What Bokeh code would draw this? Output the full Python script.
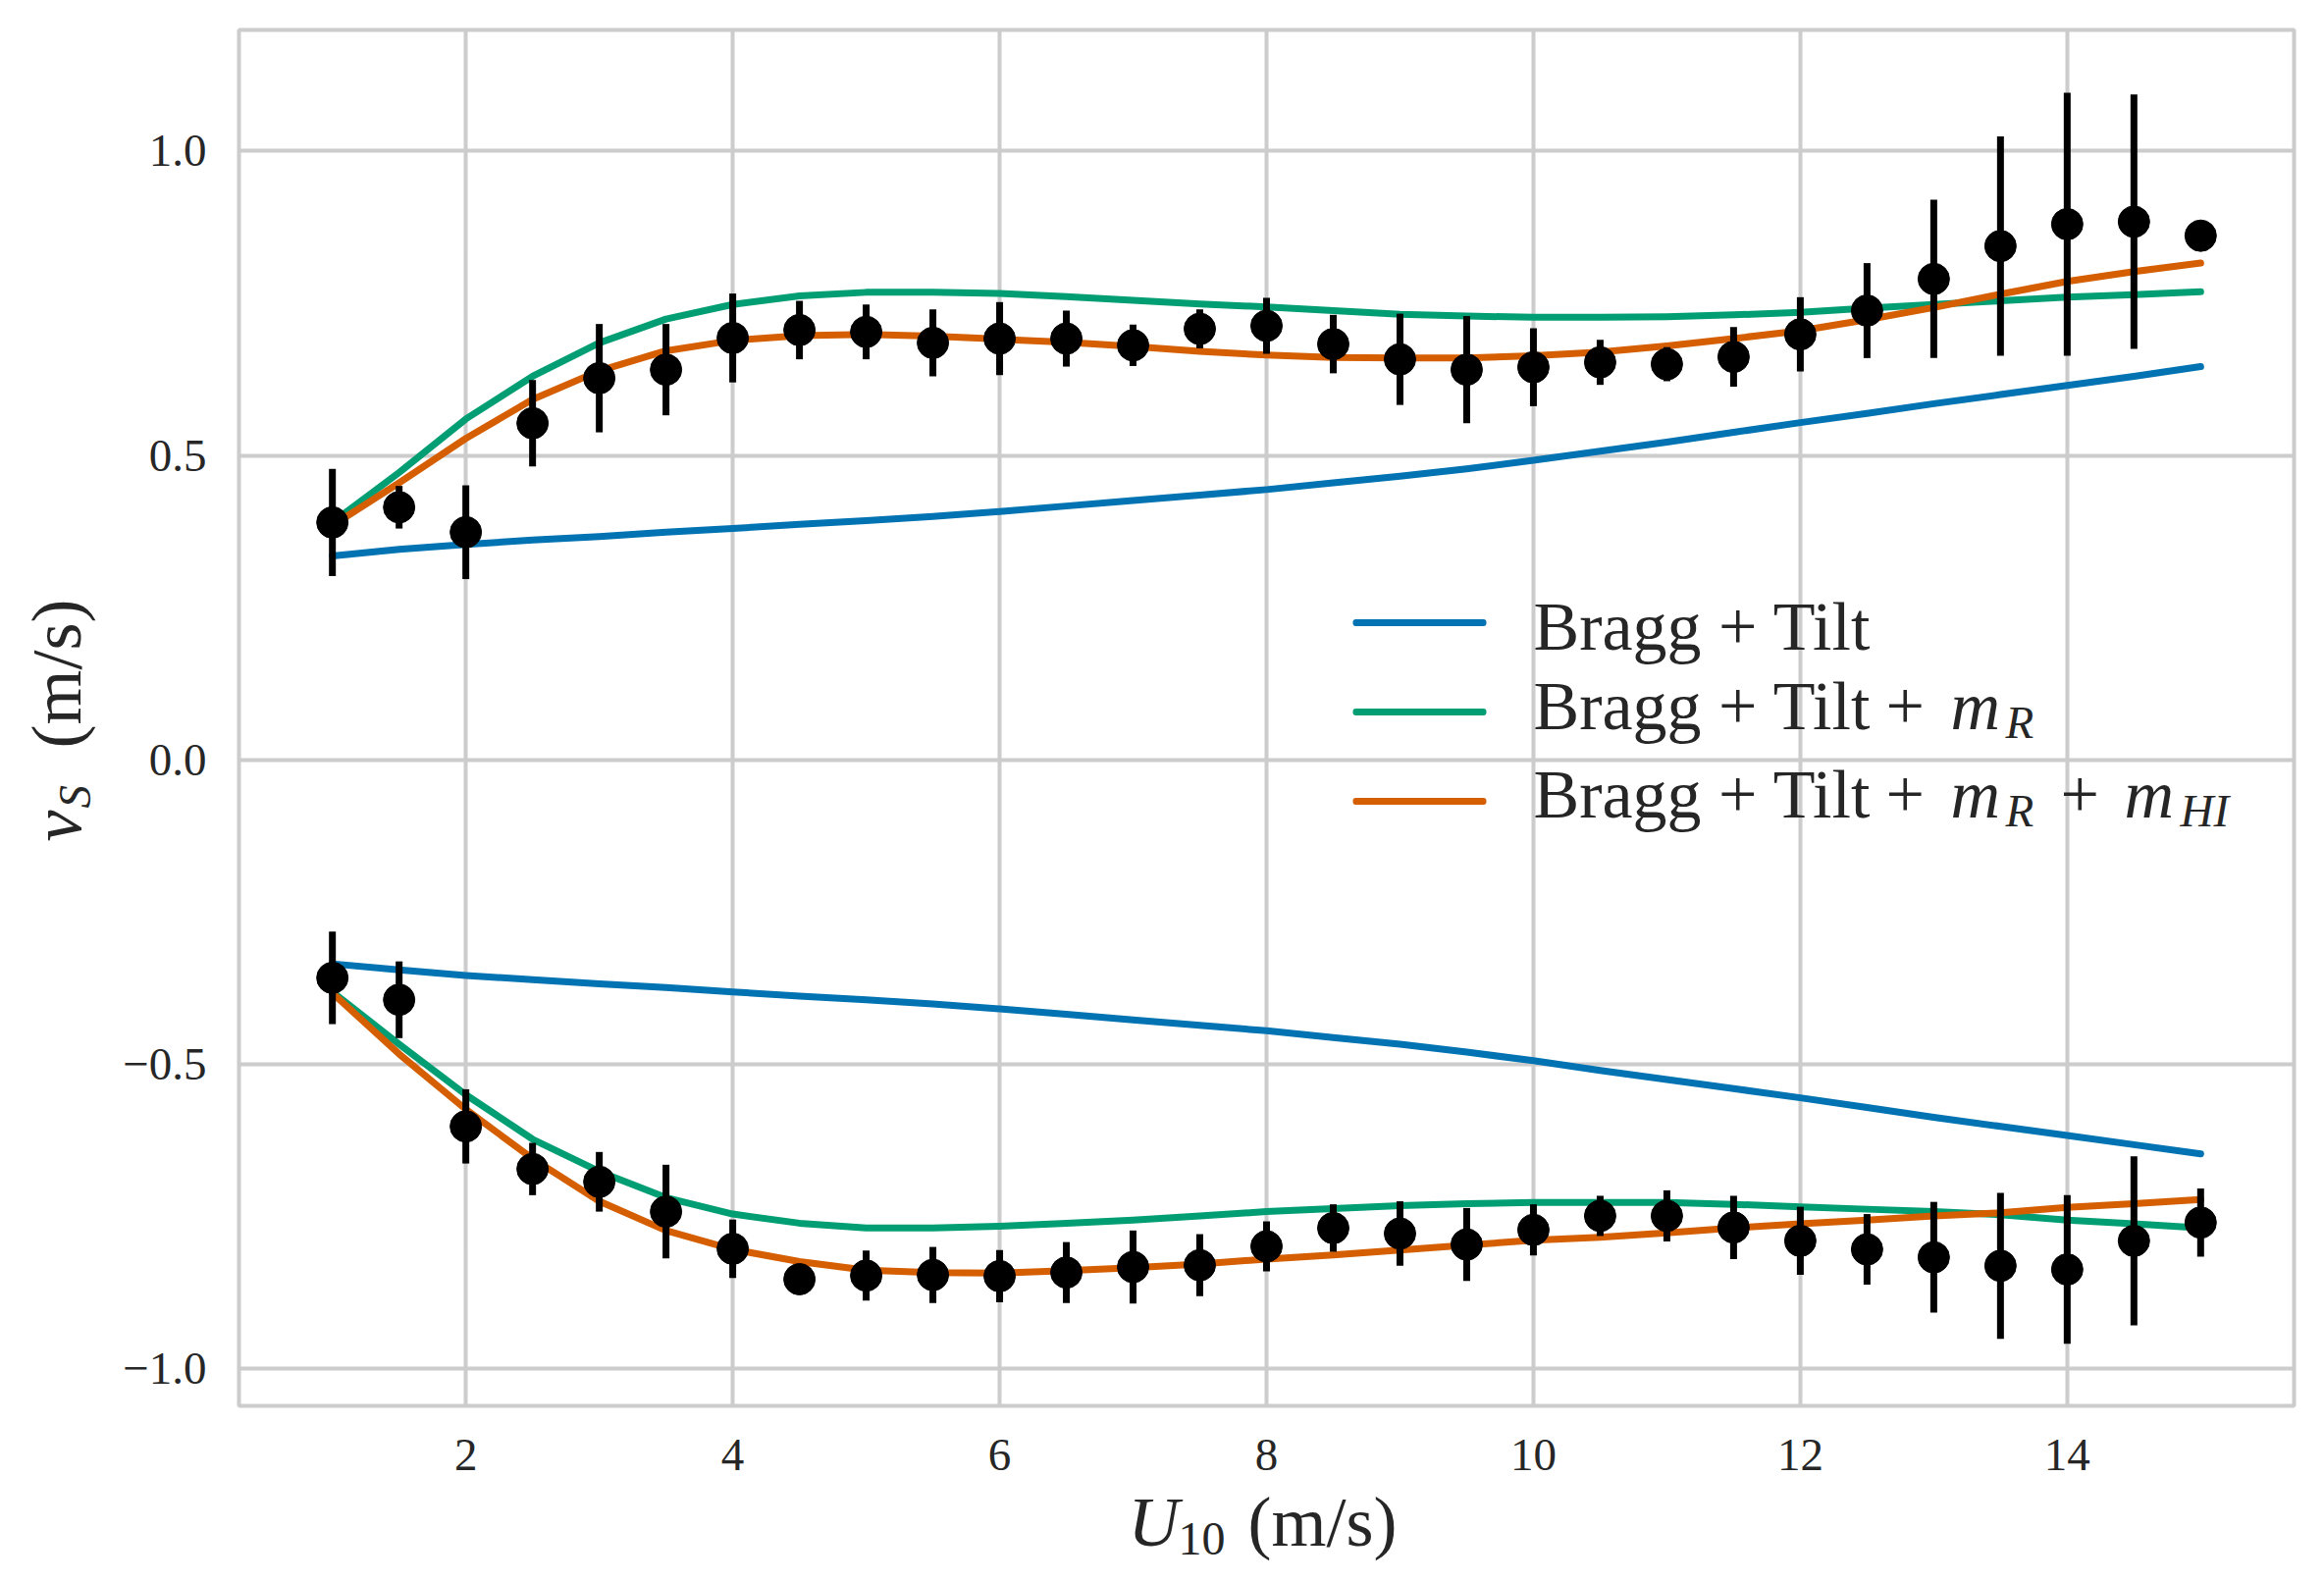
import math
from bokeh.plotting import figure
from bokeh.layouts import row, column
from bokeh.models import ColumnDataSource, Range1d, FixedTicker, Label, BoxAnnotation
from bokeh.embed import file_html
from bokeh.resources import INLINE

# ---------------- data ----------------
u10 = [1.0, 1.5, 2.0, 2.5, 3.0, 3.5, 4.0, 4.5, 5.0, 5.5, 6.0, 6.5, 7.0, 7.5,
       8.0, 8.5, 9.0, 9.5, 10.0, 10.5, 11.0, 11.5, 12.0, 12.5, 13.0, 13.5,
       14.0, 14.5, 15.0]

# model curves, upper branch
bragg_tilt_up = [0.335, 0.346, 0.354, 0.361, 0.367, 0.374, 0.380, 0.387, 0.393,
                 0.400, 0.408, 0.417, 0.426, 0.435, 0.444, 0.455, 0.466, 0.478,
                 0.492, 0.507, 0.522, 0.538, 0.554, 0.569, 0.585, 0.600, 0.615,
                 0.630, 0.646]
bragg_tilt_mr_up = [0.390, 0.472, 0.560, 0.630, 0.685, 0.724, 0.748, 0.762, 0.768,
                    0.768, 0.766, 0.761, 0.755, 0.749, 0.744, 0.738, 0.732, 0.729,
                    0.727, 0.727, 0.728, 0.731, 0.735, 0.742, 0.748, 0.754, 0.760,
                    0.764, 0.769]
bragg_tilt_mr_mhi_up = [0.385, 0.455, 0.528, 0.592, 0.639, 0.672, 0.689, 0.697, 0.699,
                        0.696, 0.691, 0.686, 0.679, 0.671, 0.665, 0.661, 0.660, 0.660,
                        0.664, 0.670, 0.680, 0.692, 0.705, 0.723, 0.743, 0.765, 0.786,
                        0.802, 0.816]

# model curves, lower branch
bragg_tilt_lo = [-0.335, -0.345, -0.354, -0.361, -0.368, -0.374, -0.381, -0.388, -0.394,
                 -0.401, -0.409, -0.418, -0.427, -0.436, -0.445, -0.456, -0.467, -0.480,
                 -0.494, -0.510, -0.525, -0.540, -0.555, -0.571, -0.587, -0.602, -0.617,
                 -0.632, -0.647]
bragg_tilt_mr_lo = [-0.381, -0.467, -0.550, -0.623, -0.676, -0.719, -0.746, -0.761, -0.769,
                    -0.769, -0.766, -0.761, -0.756, -0.749, -0.742, -0.737, -0.732, -0.729,
                    -0.727, -0.727, -0.727, -0.730, -0.734, -0.738, -0.742, -0.747, -0.756,
                    -0.762, -0.769]
bragg_tilt_mr_mhi_lo = [-0.383, -0.483, -0.574, -0.655, -0.725, -0.773, -0.804, -0.824, -0.838,
                        -0.842, -0.843, -0.839, -0.834, -0.828, -0.820, -0.813, -0.805, -0.797,
                        -0.789, -0.784, -0.777, -0.769, -0.762, -0.756, -0.749, -0.744, -0.735,
                        -0.729, -0.722]

# observations (mean and spread)
obs_up = [0.390, 0.415, 0.374, 0.553, 0.627, 0.641, 0.693, 0.706, 0.703, 0.685, 0.692,
          0.692, 0.681, 0.708, 0.713, 0.683, 0.658, 0.641, 0.645, 0.653, 0.650, 0.662,
          0.699, 0.738, 0.790, 0.844, 0.880, 0.884, 0.861]
err_up = [0.088, 0.035, 0.077, 0.071, 0.089, 0.075, 0.073, 0.048, 0.045, 0.055, 0.060,
          0.046, 0.034, 0.032, 0.046, 0.048, 0.075, 0.088, 0.064, 0.037, 0.028, 0.049,
          0.061, 0.078, 0.130, 0.180, 0.216, 0.209, 0.0]
obs_lo = [-0.358, -0.394, -0.602, -0.672, -0.693, -0.742, -0.803, -0.853, -0.847, -0.846,
          -0.848, -0.842, -0.833, -0.830, -0.799, -0.769, -0.778, -0.796, -0.772, -0.749,
          -0.749, -0.768, -0.790, -0.804, -0.817, -0.831, -0.837, -0.790, -0.760]
err_lo = [0.076, 0.063, 0.061, 0.043, 0.049, 0.077, 0.048, 0.020, 0.041, 0.046, 0.043,
          0.050, 0.060, 0.051, 0.041, 0.039, 0.053, 0.060, 0.042, 0.033, 0.042, 0.052,
          0.056, 0.058, 0.091, 0.120, 0.122, 0.139, 0.056]

x_ticks = [2, 4, 6, 8, 10, 12, 14]
y_ticks = [-1.0, -0.5, 0.0, 0.5, 1.0]
y_tick_labels = ["\u22121.0", "\u22120.5", "0.0", "0.5", "1.0"]

# ---------------- styling ----------------
BLUE = "#0173b2"
GREEN = "#029e73"
ORANGE = "#d55e00"
TXT = "#262626"
GRID = "#cccccc"
FONT = "Liberation Serif"

YLAB_W = 110
MAIN_W = 2242
MAIN_H = 1512
XLAB_H = 84

p = figure(width=MAIN_W, height=MAIN_H, output_backend="svg", toolbar_location=None,
           x_range=Range1d(0.3, 15.7), y_range=Range1d(-1.061, 1.199),
           min_border_left=133, min_border_right=15, min_border_top=30,
           min_border_bottom=80, background_fill_color="white",
           border_fill_color="white")

p.xaxis.ticker = FixedTicker(ticks=x_ticks)
p.yaxis.ticker = FixedTicker(ticks=y_ticks)
p.yaxis.major_label_overrides = {t: s for t, s in zip(y_ticks, y_tick_labels)}
for ax in (p.xaxis[0], p.yaxis[0]):
    ax.axis_line_color = None
    ax.major_tick_line_color = None
    ax.minor_tick_line_color = None
    ax.major_tick_out = 0
    ax.major_tick_in = 0
    ax.major_label_text_font = FONT
    ax.major_label_text_font_size = "47px"
    ax.major_label_text_color = TXT
p.yaxis.major_label_standoff = 33
p.xaxis.major_label_standoff = 34

p.grid.grid_line_color = GRID
p.grid.grid_line_width = 4
p.outline_line_color = GRID
p.outline_line_width = 4

# model lines
for ys, col in ((bragg_tilt_up, BLUE), (bragg_tilt_mr_up, GREEN), (bragg_tilt_mr_mhi_up, ORANGE),
                (bragg_tilt_lo, BLUE), (bragg_tilt_mr_lo, GREEN), (bragg_tilt_mr_mhi_lo, ORANGE)):
    p.line(u10, ys, line_color=col, line_width=7, line_cap="round", line_join="round")

# observations with error bars
for ys, es in ((obs_up, err_up), (obs_lo, err_lo)):
    src = ColumnDataSource(dict(x=u10, y=ys,
                                lo=[a - b for a, b in zip(ys, es)],
                                hi=[a + b for a, b in zip(ys, es)]))
    p.segment(x0="x", y0="lo", x1="x", y1="hi", source=src,
              line_color="black", line_width=7)
    p.scatter("x", "y", source=src, size=32, fill_color="black", line_color="black")


def lab(fig, text, x, y, size, italic=False, angle=0.0):
    fig.add_layout(Label(x=x, y=y, x_units="canvas", y_units="canvas", text=text,
                         text_font=FONT, text_font_size=f"{size}px",
                         text_font_style="italic" if italic else "normal",
                         text_color=TXT, text_align="left", text_baseline="alphabetic",
                         angle=angle))


def blank(w, h):
    f = figure(width=w, height=h, output_backend="svg", toolbar_location=None,
               x_range=Range1d(0, 1), y_range=Range1d(0, 1),
               x_axis_type=None, y_axis_type=None, min_border=0,
               outline_line_color=None, background_fill_color="white",
               border_fill_color="white")
    return f


# baseline correction observed for Bokeh text (fraction of font size)
D = 0.27

# ---- legend (inside the main frame) ----
OX = YLAB_W
rows = [(634, BLUE), (725, GREEN), (816, ORANGE)]
for yc, col in rows:
    p.add_layout(BoxAnnotation(left=1378 - OX, right=1514 - OX, top=yc - 3.5, bottom=yc + 3.5,
                               left_units="canvas", right_units="canvas",
                               top_units="canvas", bottom_units="canvas",
                               fill_color=col, fill_alpha=1.0, line_color=None,
                               border_radius=3))
LS = 70
SS = 47
b1, b2, b3 = 657, 738, 828
lab(p, "Bragg + Tilt", 1562 - OX, b1 - D * LS, LS)
lab(p, "Bragg + Tilt", 1562 - OX, b2 - D * LS, LS)
lab(p, "+", 1921 - OX, b2 - D * LS, LS)
lab(p, "m", 1987 - OX, b2 - D * LS, LS, italic=True)
lab(p, "R", 2043 - OX, b2 + 10 - D * SS, SS, italic=True)
lab(p, "Bragg + Tilt", 1562 - OX, b3 - D * LS, LS)
lab(p, "+", 1921 - OX, b3 - D * LS, LS)
lab(p, "m", 1987 - OX, b3 - D * LS, LS, italic=True)
lab(p, "R", 2043 - OX, b3 + 10 - D * SS, SS, italic=True)
lab(p, "+", 2099 - OX, b3 - D * LS, LS)
lab(p, "m", 2164 - OX, b3 - D * LS, LS, italic=True)
lab(p, "HI", 2221 - OX, b3 + 10 - D * SS, SS, italic=True)

# ---- x axis label  U_10 (m/s) ----
xl = blank(YLAB_W + MAIN_W, XLAB_H)
AL = 72
SB = 48
OY = MAIN_H
lab(xl, "U", 1149, 1570 - OY - D * AL, AL, italic=True)
lab(xl, "10", 1200, 1580 - OY - D * SB, SB)
lab(xl, "(m/s)", 1271, 1570 - OY - D * AL, AL)

# ---- y axis label  v_S (m/s), rotated ----
yl = blank(YLAB_W, MAIN_H)
A = math.pi / 2
lab(yl, "v", 77 - D * AL, 857, AL, italic=True, angle=A)
lab(yl, "S", 88 - D * SS, 823, SS, italic=True, angle=A)
lab(yl, "(m/s)", 77 - D * AL, 762, AL, angle=A)

layout = column(row(yl, p), xl)
open("out.html", "w").write(file_html(layout, INLINE))
